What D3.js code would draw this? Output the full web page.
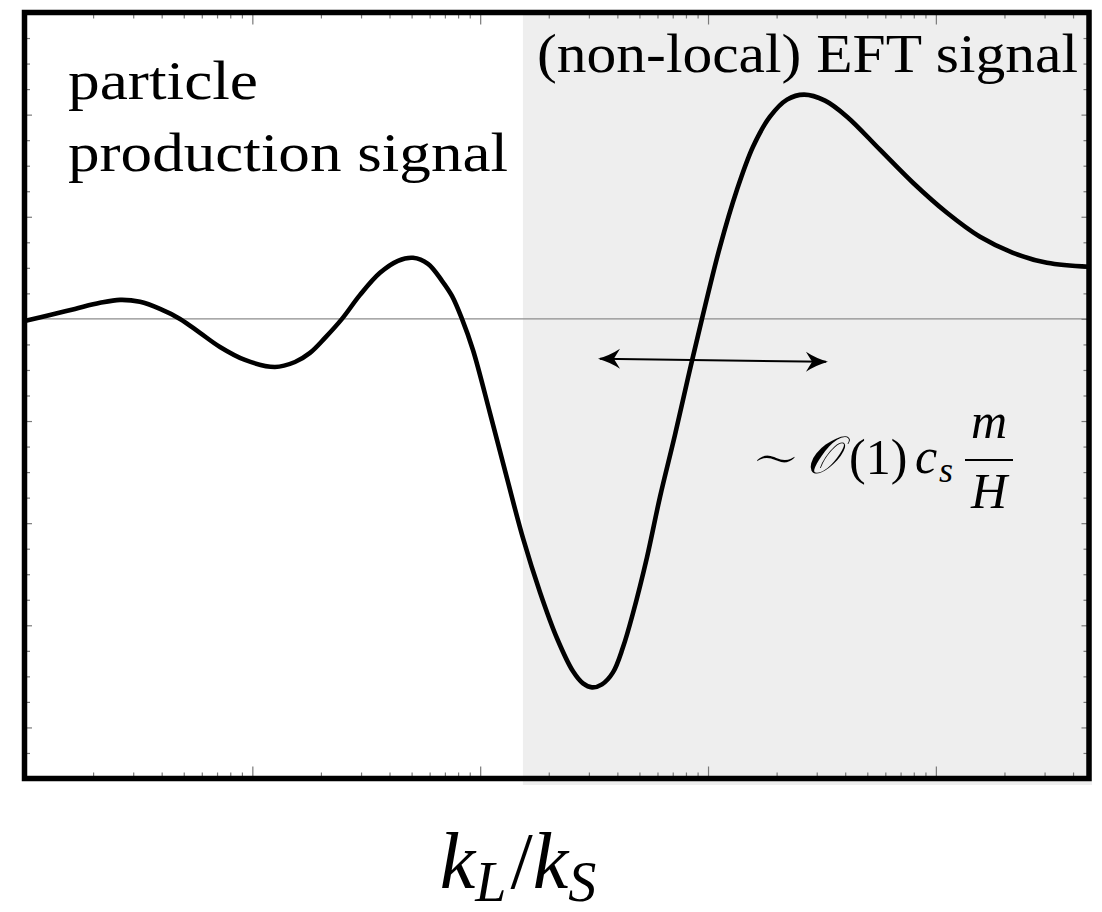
<!DOCTYPE html>
<html>
<head>
<meta charset="utf-8">
<script src="https://cdn.jsdelivr.net/npm/d3@7"></script>
<style>
  body { margin: 0; background: #fff; }
  text { font-family: "Liberation Serif", "DejaVu Serif", serif; fill: #000; }
</style>
</head>
<body>
<svg id="chart" width="1102" height="912"></svg>
<script>
// Momentum ratio k_L/k_S (log axis) and the bispectrum shape signal
const ratio = [
  0.001, 0.001294, 0.001665, 0.002145, 0.002625, 0.003213, 0.003933, 0.004815,
  0.005892, 0.007211, 0.009283, 0.012573, 0.015389, 0.017906, 0.020840, 0.024742,
  0.029694, 0.036325, 0.043571, 0.050710, 0.059000, 0.067963, 0.075180, 0.083185,
  0.092976, 0.110408, 0.131099, 0.154133, 0.183020, 0.217320, 0.255505, 0.282643,
  0.309560, 0.342452, 0.382695, 0.423354, 0.468336, 0.539758, 0.615232, 0.715858,
  0.816582, 0.940603, 1.12808, 1.33968, 1.57543, 1.87024, 2.22153, 2.63783,
  3.26134, 4.07269, 5.68328, 7.93427, 11.1863, 15.6173, 21.7970, 30.7314, 46.989
];
const signal = [
  -0.020, 0.039, 0.098, 0.157, 0.186, 0.167, 0.098, 0.0,
  -0.137, -0.275, -0.402, -0.471, -0.422, -0.333, -0.186, 0.0,
  0.235, 0.451, 0.569, 0.598, 0.539, 0.373, 0.225, 0.0,
  -0.304, -0.922, -1.559, -2.147, -2.676, -3.127, -3.451, -3.569,
  -3.608, -3.578, -3.461, -3.216, -2.882, -2.333, -1.745, -1.137,
  -0.578, 0.0, 0.706, 1.265, 1.686, 1.980, 2.147, 2.196,
  2.137, 1.980, 1.657, 1.333, 1.039, 0.804, 0.647, 0.549, 0.510
];

// Axis extents and tick values
const xDomain = [0.001, 47.0];
const yDomain = [-4.5, 3];
const xMajorTicks = [0.001, 0.01, 0.1, 1, 10];
const xMinorTicks = [];
[0.001, 0.01, 0.1, 1, 10].forEach(d => {
  for (let m = 2; m <= 9; m++) { const v = d * m; if (v < xDomain[1]) xMinorTicks.push(v); }
});
const yMajorTicks = [-4, -3, -2, -1, 0, 1, 2, 3];
const yMinorTicks = d3.range(-4.5, 3.001, 0.25).filter(v => Math.abs(v - Math.round(v)) > 1e-6);

// Boundary of the shaded EFT region and the width-marker arrow
const eftStart = 0.154;
const arrowX = [0.329, 3.36];
const arrowY = [-0.39, -0.42];

const svg = d3.select("#chart");
const pLeft = 24.5, pRight = 1089, pTop = 12.5, pBottom = 778.5;

const x = d3.scaleLog().domain(xDomain).range([pLeft, pRight]);
const y = d3.scaleLinear().domain(yDomain).range([pBottom, pTop]);

// shaded EFT band
svg.append("rect")
  .attr("x", x(eftStart)).attr("y", pTop)
  .attr("width", pRight + 3 - x(eftStart)).attr("height", pBottom - pTop + 6.5)
  .attr("fill", "#eeeeee");

// zero line
svg.append("line")
  .attr("x1", pLeft).attr("x2", pRight)
  .attr("y1", y(0)).attr("y2", y(0))
  .attr("stroke", "#8c8c8c").attr("stroke-width", 1.3);

// inward ticks on all four sides
function drawAxis(gen, transform, values, size) {
  const g = svg.append("g").attr("transform", transform)
    .call(gen.tickValues(values).tickSize(-size).tickFormat(""));
  g.select(".domain").remove();
  g.selectAll(".tick line").attr("stroke", "#7a7a7a").attr("stroke-width", 1.2);
}
drawAxis(d3.axisBottom(x), `translate(0,${pBottom})`, xMinorTicks, 6);
drawAxis(d3.axisBottom(x), `translate(0,${pBottom})`, xMajorTicks, 12);
drawAxis(d3.axisTop(x), `translate(0,${pTop})`, xMinorTicks, 6);
drawAxis(d3.axisTop(x), `translate(0,${pTop})`, xMajorTicks, 12);
drawAxis(d3.axisLeft(y), `translate(${pLeft},0)`, yMinorTicks, 5.5);
drawAxis(d3.axisLeft(y), `translate(${pLeft},0)`, yMajorTicks, 7.5);
drawAxis(d3.axisRight(y), `translate(${pRight},0)`, yMinorTicks, 5.5);
drawAxis(d3.axisRight(y), `translate(${pRight},0)`, yMajorTicks, 7.5);

// signal curve
const pts = ratio.map((r, i) => [r, signal[i]]);
svg.append("defs").append("clipPath").attr("id", "plotClip")
  .append("rect").attr("x", pLeft).attr("y", pTop)
  .attr("width", pRight - pLeft).attr("height", pBottom - pTop);
svg.append("path")
  .datum(pts)
  .attr("clip-path", "url(#plotClip)")
  .attr("d", d3.line().x(d => x(d[0])).y(d => y(d[1])).curve(d3.curveCatmullRom.alpha(0.5)))
  .attr("fill", "none").attr("stroke", "#000").attr("stroke-width", 4.6)
  .attr("stroke-linejoin", "round");

// frame
svg.append("rect")
  .attr("x", pLeft).attr("y", pTop)
  .attr("width", pRight - pLeft).attr("height", pBottom - pTop)
  .attr("fill", "none").attr("stroke", "#000").attr("stroke-width", 5.5);

// double-headed arrow
const ax1 = x(arrowX[0]), ax2 = x(arrowX[1]), ay1 = y(arrowY[0]), ay2 = y(arrowY[1]);
svg.append("line")
  .attr("x1", ax1 + 2).attr("y1", ay1).attr("x2", ax2 - 2).attr("y2", ay2)
  .attr("stroke", "#000").attr("stroke-width", 2);
function head(tx, ty, dir) {
  const L = 22, W = 10;
  svg.append("path")
    .attr("d", `M${tx},${ty} Q${tx + dir * L * 0.55},${ty - W * 0.35} ${tx + dir * L},${ty - W}
                L${tx + dir * L * 0.72},${ty} L${tx + dir * L},${ty + W}
                Q${tx + dir * L * 0.55},${ty + W * 0.35} ${tx},${ty}Z`)
    .attr("fill", "#000");
}
head(ax1, ay1, 1);
head(ax2, ay2, -1);

// region labels
svg.append("text").attr("x", 68).attr("y", 99)
  .attr("font-size", 55).attr("textLength", 190).attr("lengthAdjust", "spacingAndGlyphs")
  .text("particle");
svg.append("text").attr("x", 68).attr("y", 171)
  .attr("font-size", 55).attr("textLength", 440).attr("lengthAdjust", "spacingAndGlyphs")
  .text("production signal");
svg.append("text").attr("x", 537).attr("y", 72)
  .attr("font-size", 55).attr("textLength", 541).attr("lengthAdjust", "spacingAndGlyphs")
  .text("(non-local) EFT signal");

// width annotation: ~ O(1) c_s m/H
const ann = svg.append("g");
ann.append("text").attr("x", 749).attr("y", 479).attr("font-size", 64)
  .attr("font-family", "DejaVu Sans")
  .attr("stroke", "#eeeeee").attr("stroke-width", 2.8).text("∼");
ann.append("text").attr("x", 806).attr("y", 473).attr("font-size", 52)
  .attr("font-style", "italic").text("𝒪");
ann.append("text").attr("x", 849).attr("y", 474).attr("font-size", 50).text("(1)");
ann.append("text").attr("x", 915).attr("y", 473).attr("font-size", 50)
  .attr("font-style", "italic").text("c");
ann.append("text").attr("x", 939).attr("y", 482).attr("font-size", 36)
  .attr("font-style", "italic").text("s");
ann.append("line").attr("x1", 965).attr("x2", 1013).attr("y1", 460).attr("y2", 460)
  .attr("stroke", "#000").attr("stroke-width", 2);
ann.append("text").attr("x", 989).attr("y", 438).attr("font-size", 50)
  .attr("font-style", "italic").attr("text-anchor", "middle").text("m");
ann.append("text").attr("x", 989).attr("y", 508).attr("font-size", 50)
  .attr("font-style", "italic").attr("text-anchor", "middle").text("H");

// x-axis title k_L / k_S
const xt = svg.append("text").attr("x", 518).attr("y", 888)
  .attr("font-size", 80).attr("text-anchor", "middle");
xt.append("tspan").attr("font-style", "italic").text("k");
xt.append("tspan").attr("font-style", "italic").attr("font-size", 56).attr("dy", 13).text("L");
xt.append("tspan").attr("dy", -13).attr("dx", 4).text("/");
xt.append("tspan").attr("font-style", "italic").text("k");
xt.append("tspan").attr("font-style", "italic").attr("font-size", 56).attr("dy", 13).text("S");
</script>
</body>
</html>
